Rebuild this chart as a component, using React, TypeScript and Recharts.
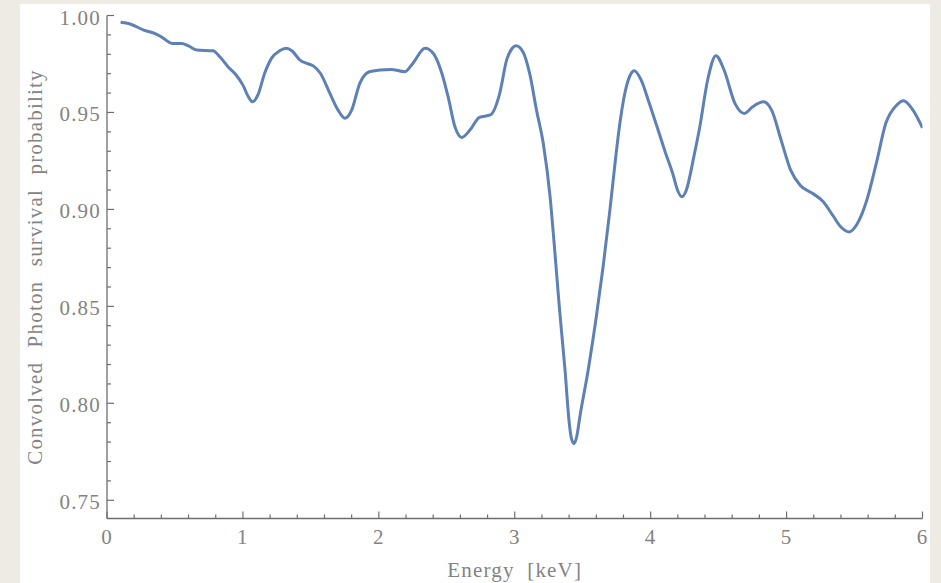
import { LineChart, Line, XAxis, YAxis } from "recharts";

// energy in keV
const energy = [
  0.1, 0.17, 0.27, 0.35, 0.4, 0.48, 0.55, 0.6, 0.66, 0.78, 0.83, 0.89, 0.95, 1.0, 1.04, 1.07, 1.11,
  1.16, 1.21, 1.27, 1.32, 1.36, 1.42, 1.47, 1.52, 1.57, 1.64, 1.7, 1.75, 1.8, 1.86, 1.93, 2.01, 2.09,
  2.19, 2.25, 2.34, 2.4, 2.46, 2.51, 2.56, 2.61, 2.67, 2.74, 2.82, 2.89, 2.94, 2.98, 3.01, 3.06, 3.11,
  3.16, 3.21, 3.26, 3.29, 3.33, 3.37, 3.4, 3.415, 3.435, 3.455, 3.48, 3.54, 3.6, 3.65, 3.7, 3.735,
  3.77, 3.81, 3.85, 3.88, 3.93, 3.99, 4.05, 4.11, 4.16, 4.2, 4.23, 4.26, 4.32, 4.36, 4.42, 4.48, 4.54,
  4.62, 4.69, 4.75, 4.83, 4.89, 4.96, 5.03, 5.1, 5.19, 5.27, 5.34, 5.4, 5.46, 5.52, 5.59, 5.66, 5.73,
  5.81, 5.86, 5.93, 6.0,
];

const survival = [
  0.9965, 0.9956, 0.9925, 0.9908, 0.989, 0.9856, 0.9856, 0.9843, 0.9822, 0.9818, 0.9787, 0.9736,
  0.9693, 0.9641, 0.9581, 0.9555, 0.959, 0.9702, 0.9779, 0.9818, 0.9831, 0.9818, 0.977, 0.9753,
  0.9739, 0.9702, 0.9598, 0.9512, 0.947, 0.9512, 0.965, 0.971, 0.9719, 0.9722, 0.971, 0.9753, 0.9831,
  0.9805, 0.971, 0.958, 0.9426, 0.9371, 0.9409, 0.9475, 0.9487, 0.96, 0.977, 0.983, 0.9844, 0.9813,
  0.97, 0.9512, 0.934, 0.9065, 0.8824, 0.848, 0.8171, 0.7905, 0.7825, 0.7792, 0.7825, 0.7935, 0.8171,
  0.8446, 0.8704, 0.8996, 0.922, 0.9426, 0.9599, 0.9693, 0.9715, 0.9667, 0.9547, 0.942, 0.929, 0.919,
  0.9095, 0.9065, 0.9095, 0.928, 0.942, 0.967, 0.9793, 0.9719, 0.9547, 0.9495, 0.9529, 0.9555,
  0.9512, 0.9357, 0.9203, 0.9125, 0.9083, 0.904, 0.8969, 0.8909, 0.8884, 0.8926, 0.9047, 0.9237,
  0.9444, 0.9538, 0.956, 0.9512, 0.942,
];

const xMajorTicks = [0, 1, 2, 3, 4, 5, 6];
const yMajorTicks = [0.75, 0.8, 0.85, 0.9, 0.95, 1.0];

const data = energy.map((e, i) => ({ e, p: survival[i] }));

// minor ticks: 0.2 keV and 0.01
const xTicks = Array.from({ length: 31 }, (_, i) => Math.round(i * 2) / 10);
const yTicks = Array.from({ length: 26 }, (_, i) => Math.round(75 + i) / 100);

const isMajor = (v: number, list: number[]) => list.some((m) => Math.abs(m - v) < 1e-6);

const AXIS = "#6e6e6e";
const LABEL = "#838383";
const FONT = "'Liberation Serif', 'Times New Roman', 'DejaVu Serif', serif";
const textStyle = { fontFamily: FONT, fontSize: 21, fill: LABEL, letterSpacing: 1.2 };

const BottomTick = (props: any) => {
  const { x, y, payload } = props;
  const major = isMajor(payload.value, xMajorTicks);
  return (
    <g>
      <line x1={x} x2={x} y1={y} y2={y - (major ? 7 : 4)} stroke={AXIS} strokeWidth={1.2} />
      {major && (
        <text x={x} y={y + 18} textAnchor="middle" dominantBaseline="central" fontFamily={FONT} style={textStyle}>
          {payload.value}
        </text>
      )}
    </g>
  );
};

const TopTick = (props: any) => {
  const { x, y, payload } = props;
  const major = isMajor(payload.value, xMajorTicks);
  return <line x1={x} x2={x} y1={y} y2={y + (major ? 7 : 4)} stroke={AXIS} strokeWidth={1.2} />;
};

const LeftTick = (props: any) => {
  const { x, y, payload } = props;
  const major = isMajor(payload.value, yMajorTicks);
  return (
    <g>
      <line x1={x} x2={x + (major ? 7 : 4)} y1={y} y2={y} stroke={AXIS} strokeWidth={1.2} />
      {major && (
        <text x={x - 6} y={y + 2} textAnchor="end" dominantBaseline="central" fontFamily={FONT} style={textStyle}>
          {payload.value.toFixed(2)}
        </text>
      )}
    </g>
  );
};

const RightTick = (props: any) => {
  const { x, y, payload } = props;
  const major = isMajor(payload.value, yMajorTicks);
  return <line x1={x} x2={x - (major ? 7 : 4)} y1={y} y2={y} stroke={AXIS} strokeWidth={1.2} />;
};

const YTitle = (props: any) => {
  const { viewBox } = props;
  const cy = viewBox.y + viewBox.height / 2;
  return (
    <text
      x={35}
      y={cy}
      transform={`rotate(-90, 35, ${cy})`}
      textAnchor="middle"
      dominantBaseline="central"
      fontFamily={FONT}
      style={{ ...textStyle, wordSpacing: 8 }}
    >
      Convolved Photon survival probability
    </text>
  );
};

const XTitle = (props: any) => {
  const { viewBox } = props;
  const cx = viewBox.x + viewBox.width / 2;
  return (
    <text
      x={cx}
      y={570}
      textAnchor="middle"
      dominantBaseline="central"
      fontFamily={FONT}
      style={{ ...textStyle, wordSpacing: 6 }}
    >
      Energy [keV]
    </text>
  );
};

export default function App() {
  return (
    <div style={{ position: "fixed", left: 0, top: 0, width: 941, height: 583, background: "#eeebe4" }}>
      <div style={{ position: "absolute", left: 20, top: 4, width: 910, height: 579, background: "#ffffff" }} />
      <LineChart
        width={941}
        height={583}
        data={data}
        margin={{ top: 15.5, right: 18.5, bottom: 0, left: 0 }}
        style={{ position: "absolute", left: 0, top: 0 }}
      >
        <XAxis
          dataKey="e"
          type="number"
          domain={[0, 6]}
          ticks={xTicks}
          interval={0}
          height={64.5}
          tickSize={0}
          tickMargin={0}
          tickLine={false}
          axisLine={{ stroke: AXIS, strokeWidth: 1.3 }}
          tick={<BottomTick />}
          label={<XTitle />}
          allowDataOverflow
        />
        <XAxis
          xAxisId="top"
          orientation="top"
          type="number"
          domain={[0, 6]}
          ticks={xTicks}
          interval={0}
          height={0}
          tickSize={0}
          tickMargin={0}
          tickLine={false}
          axisLine={{ stroke: AXIS, strokeWidth: 1.3 }}
          tick={<TopTick />}
          allowDataOverflow
        />
        <YAxis
          type="number"
          domain={[0.7406, 1.0]}
          ticks={yTicks}
          interval={0}
          width={107}
          tickSize={0}
          tickMargin={0}
          tickLine={false}
          axisLine={{ stroke: AXIS, strokeWidth: 1.3 }}
          tick={<LeftTick />}
          label={<YTitle />}
          allowDataOverflow
        />
        <YAxis
          yAxisId="right"
          orientation="right"
          type="number"
          domain={[0.7406, 1.0]}
          ticks={yTicks}
          interval={0}
          width={0}
          tickSize={0}
          tickMargin={0}
          tickLine={false}
          axisLine={{ stroke: AXIS, strokeWidth: 1.3 }}
          tick={<RightTick />}
          allowDataOverflow
        />
        <Line
          dataKey="p"
          type="monotone"
          stroke="#5e81b5"
          strokeWidth={3}
          dot={false}
          isAnimationActive={false}
        />
      </LineChart>
    </div>
  );
}
